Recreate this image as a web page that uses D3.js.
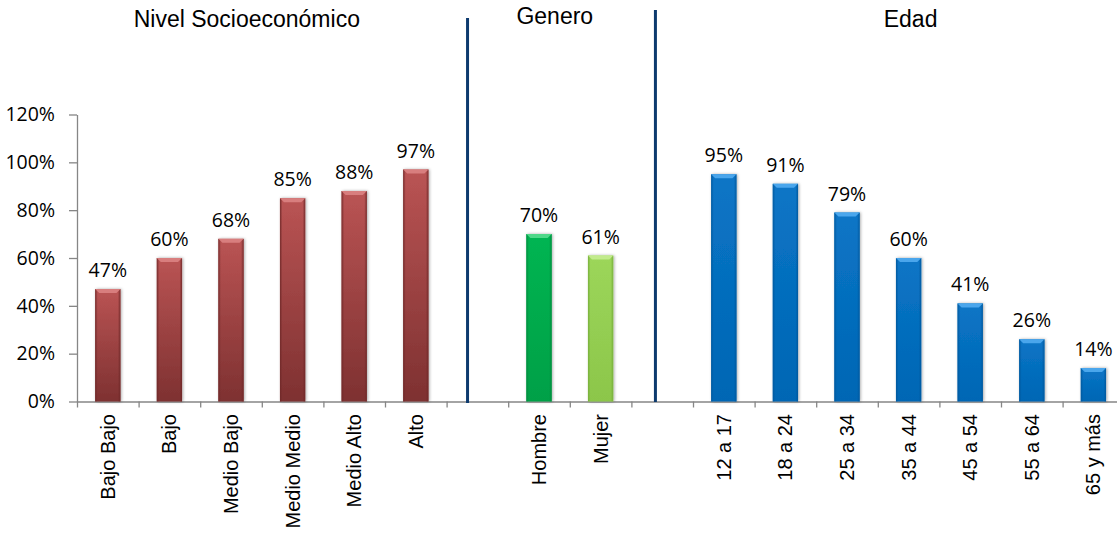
<!DOCTYPE html>
<html>
<head>
<meta charset="utf-8">
<script src="https://cdn.jsdelivr.net/npm/d3@7"></script>
<style>
  html, body { margin: 0; padding: 0; background: #ffffff; overflow: hidden; }
  svg { display: block; }
</style>
</head>
<body>
<svg id="chart" width="1117" height="535"></svg>
<script>
// Percentages by socioeconomic level, gender and age group
const nseCategories = ["Bajo Bajo", "Bajo", "Medio Bajo", "Medio Medio", "Medio Alto", "Alto"];
const nseValues = [47, 60, 68, 85, 88, 97];
const generoCategories = ["Hombre", "Mujer"];
const generoValues = [70, 61];
const edadCategories = ["12 a 17", "18 a 24", "25 a 34", "35 a 44", "45 a 54", "55 a 64", "65 y más"];
const edadValues = [95, 91, 79, 60, 41, 26, 14];
const yTicks = [0, 20, 40, 60, 80, 100, 120];
const groupTitles = ["Nivel Socioeconómico", "Genero", "Edad"];

// Bar palettes: [top, bottom, edge, bevel]
const palettes = {
  red:   ["#ba5454", "#7e3131", "#6e2828", "#d87e7e"],
  green: ["#00b552", "#00a047", "#008a3c", "#4fd889"],
  lime:  ["#9cd65a", "#8cc64a", "#76ad3a", "#c2eb8c"],
  blue:  ["#0a75c6", "#0066b4", "#00579c", "#4aa6ec"]
};

// One slot per category, with empty slots separating the three groups
const slots = [];
nseCategories.forEach((c, i) => slots.push({ key: "n" + i, label: c, value: nseValues[i], pal: "red" }));
slots.push({ key: "gap1" });
generoCategories.forEach((c, i) => slots.push({ key: "g" + i, label: c, value: generoValues[i], pal: i === 0 ? "green" : "lime" }));
slots.push({ key: "gap2" });
edadCategories.forEach((c, i) => slots.push({ key: "e" + i, label: c, value: edadValues[i], pal: "blue" }));

const left = 77, step = 61.6;
const right = left + slots.length * step;
const x = d3.scaleBand().domain(slots.map(d => d.key)).range([left, right]).padding(0);
const xIdx = d3.scaleLinear().domain([0, slots.length]).range([left, right]);
const y = d3.scaleLinear().domain([0, 120]).range([401.5, 114.5]);

const svg = d3.select("#chart");
const defs = svg.append("defs");

const shadow = defs.append("filter").attr("id", "barShadow")
  .attr("x", "-30%").attr("y", "-10%").attr("width", "160%").attr("height", "120%");
shadow.append("feDropShadow").attr("dx", 1).attr("dy", 0).attr("stdDeviation", 1.4)
  .attr("flood-color", "#000").attr("flood-opacity", 0.35);

Object.entries(palettes).forEach(([name, p]) => {
  const g = defs.append("linearGradient").attr("id", "body-" + name)
    .attr("x1", 0).attr("y1", 0).attr("x2", 0).attr("y2", 1);
  g.append("stop").attr("offset", "0%").attr("stop-color", p[0]);
  g.append("stop").attr("offset", "100%").attr("stop-color", p[1]);
  const h = defs.append("linearGradient").attr("id", "side-" + name)
    .attr("x1", 0).attr("y1", 0).attr("x2", 1).attr("y2", 0);
  h.append("stop").attr("offset", "0%").attr("stop-color", p[2]).attr("stop-opacity", 0.9);
  h.append("stop").attr("offset", "10%").attr("stop-color", p[2]).attr("stop-opacity", 0);
  h.append("stop").attr("offset", "90%").attr("stop-color", p[2]).attr("stop-opacity", 0);
  h.append("stop").attr("offset", "100%").attr("stop-color", p[2]).attr("stop-opacity", 0.9);
});

const gridColor = "#868686";
const font = "'Open Sans', 'Noto Sans', sans-serif";
const arial = "'Liberation Sans', Arial, sans-serif";

// Y axis
const yAxis = svg.append("g").attr("transform", `translate(${left},0)`)
  .call(d3.axisLeft(y).tickValues(yTicks).tickSize(8).tickSizeOuter(0).tickPadding(14).tickFormat(d => d + "%"));
yAxis.select(".domain").attr("stroke", gridColor).attr("stroke-width", 1.3);
yAxis.selectAll(".tick line").attr("stroke", gridColor).attr("stroke-width", 1.3);
yAxis.selectAll(".tick text").attr("fill", "#000").style("font-family", font).style("font-size", "19.5px");

// X axis with ticks between slots
const xAxis = svg.append("g").attr("transform", `translate(0,${y(0)})`)
  .call(d3.axisBottom(xIdx).tickValues(d3.range(0, slots.length + 1)).tickSize(6).tickSizeOuter(0).tickFormat(""));
xAxis.select(".domain").attr("stroke", gridColor).attr("stroke-width", 1.3);
xAxis.selectAll(".tick line").attr("stroke", gridColor).attr("stroke-width", 1.3);

// Bars
const barW = step * 0.41;
const data = slots.filter(d => d.label);
const bars = svg.append("g").selectAll("g.bar").data(data).join("g").attr("class", "bar");

bars.append("rect")
  .attr("x", d => x(d.key) + (step - barW) / 2)
  .attr("y", d => y(d.value))
  .attr("width", barW)
  .attr("height", d => y(0) - y(d.value))
  .attr("fill", d => `url(#body-${d.pal})`)
  .attr("filter", "url(#barShadow)");

bars.append("rect")
  .attr("x", d => x(d.key) + (step - barW) / 2)
  .attr("y", d => y(d.value))
  .attr("width", barW)
  .attr("height", d => y(0) - y(d.value))
  .attr("fill", d => `url(#side-${d.pal})`);

// Bevelled top cap
const bev = 4;
bars.append("polygon")
  .attr("points", d => {
    const x0 = x(d.key) + (step - barW) / 2, x1 = x0 + barW, t = y(d.value);
    return [[x0, t], [x1, t], [x1 - bev, t + bev], [x0 + bev, t + bev]].map(p => p.join(",")).join(" ");
  })
  .attr("fill", d => palettes[d.pal][3]);

// Value labels
bars.append("text")
  .attr("x", d => x(d.key) + step / 2)
  .attr("y", d => y(d.value) - 12)
  .attr("text-anchor", "middle")
  .style("font-family", font).style("font-size", "19.5px").attr("fill", "#000")
  .text(d => d.value + "%");

// Category labels, rotated
svg.append("g").selectAll("text").data(data).join("text")
  .attr("transform", d => `translate(${x(d.key) + step / 2},414) rotate(-90)`)
  .attr("text-anchor", "end").attr("dy", "0.35em")
  .style("font-family", arial).style("font-size", "20px").attr("fill", "#000")
  .text(d => d.label);

// Group dividers
const dividerColor = "#0d3a6e";
[[x("gap1") + step * 0.34, 18, 403], [x("gap2") + step * 0.39, 10, 402]].forEach(([dx, y1, y2]) => {
  svg.append("line").attr("x1", dx).attr("x2", dx).attr("y1", y1).attr("y2", y2)
    .attr("stroke", dividerColor).attr("stroke-width", 3);
});

// Group titles
const titleCenters = [
  (x("n0") + x("n5") + step) / 2 - 15,
  (x("g0") + x("g1") + step) / 2 - 15,
  (x("e0") + x("e6") + step) / 2 + 2
];
const titleBaselines = [27, 24, 27];
groupTitles.forEach((t, i) => {
  svg.append("text").attr("x", titleCenters[i]).attr("y", titleBaselines[i])
    .attr("text-anchor", "middle")
    .style("font-family", arial).style("font-size", "23px").attr("fill", "#000")
    .text(t);
});
</script>
</body>
</html>
